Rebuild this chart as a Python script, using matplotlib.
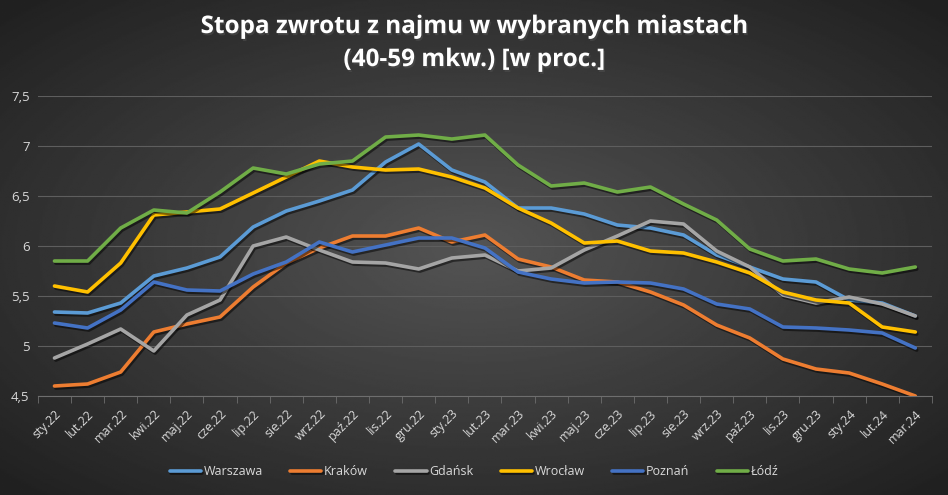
import numpy as np
import matplotlib.pyplot as plt
import matplotlib.patheffects as pe

months = ["sty.22", "lut.22", "mar.22", "kwi.22", "maj.22", "cze.22", "lip.22", "sie.22",
          "wrz.22", "paź.22", "lis.22", "gru.22", "sty.23", "lut.23", "mar.23", "kwi.23",
          "maj.23", "cze.23", "lip.23", "sie.23", "wrz.23", "paź.23", "lis.23", "gru.23",
          "sty.24", "lut.24", "mar.24"]

warszawa = [5.34, 5.33, 5.43, 5.70, 5.78, 5.89, 6.19, 6.35, 6.45, 6.56, 6.84, 7.02, 6.76, 6.64,
            6.38, 6.38, 6.32, 6.21, 6.18, 6.11, 5.91, 5.79, 5.67, 5.64, 5.46, 5.43, 5.30]
krakow = [4.60, 4.62, 4.74, 5.14, 5.22, 5.29, 5.59, 5.83, 5.98, 6.10, 6.10, 6.18, 6.04, 6.11,
          5.87, 5.79, 5.66, 5.64, 5.54, 5.41, 5.21, 5.08, 4.87, 4.77, 4.73, 4.62, 4.50]
gdansk = [4.88, 5.02, 5.17, 4.95, 5.31, 5.46, 6.00, 6.09, 5.96, 5.84, 5.83, 5.77, 5.88, 5.91,
          5.75, 5.78, 5.96, 6.10, 6.25, 6.22, 5.95, 5.79, 5.51, 5.43, 5.49, 5.42, 5.30]
wroclaw = [5.60, 5.54, 5.83, 6.31, 6.34, 6.37, 6.53, 6.69, 6.85, 6.79, 6.76, 6.77, 6.69, 6.58,
           6.38, 6.23, 6.03, 6.05, 5.95, 5.93, 5.84, 5.73, 5.54, 5.46, 5.43, 5.19, 5.14]
poznan = [5.23, 5.18, 5.36, 5.64, 5.56, 5.55, 5.72, 5.84, 6.04, 5.94, 6.01, 6.08, 6.08, 5.98,
          5.74, 5.67, 5.63, 5.64, 5.63, 5.57, 5.42, 5.37, 5.19, 5.18, 5.16, 5.13, 4.98]
lodz = [5.85, 5.85, 6.18, 6.36, 6.33, 6.54, 6.78, 6.72, 6.82, 6.85, 7.09, 7.11, 7.07, 7.11,
        6.81, 6.60, 6.63, 6.54, 6.59, 6.42, 6.26, 5.97, 5.85, 5.87, 5.77, 5.73, 5.79]

series = [("Warszawa", warszawa, "#5B9BD5"),
          ("Kraków", krakow, "#ED7D31"),
          ("Gdańsk", gdansk, "#A5A5A5"),
          ("Wrocław", wroclaw, "#FFC000"),
          ("Poznań", poznan, "#4472C4"),
          ("Łódź", lodz, "#70AD47")]

plt.rcParams['font.family'] = ['Open Sans', 'DejaVu Sans']

fig = plt.figure(figsize=(9.48, 4.95), dpi=100)

# tło: promieniowy gradient jak w Excelu
bg = fig.add_axes([0, 0, 1, 1], zorder=-10)
yy, xx = np.mgrid[0:1:300j, 0:1:600j]
r = np.sqrt(((xx - 0.5) / 0.75) ** 2 + ((yy - 0.5) / 0.75) ** 2)
shade = np.clip(0.33 - 0.22 * r, 0.13, 0.33)
bg.imshow(shade, cmap="gray", vmin=0, vmax=1, aspect="auto", extent=[0, 1, 0, 1])
bg.axis("off")

ax = fig.add_axes([0.040, 0.200, 0.943, 0.606])
ax.set_facecolor("none")

x = np.arange(len(months))
for name, vals, col in series:
    ax.plot(x, vals, color=col, linewidth=2.6, label=name, solid_capstyle="round",
            solid_joinstyle="round",
            path_effects=[pe.SimpleLineShadow(offset=(1, -1.5), alpha=0.5, shadow_color="black"),
                          pe.Normal()])

ax.set_xlim(-0.5, len(months) - 0.5)
ax.set_ylim(4.5, 7.5)
yt = [4.5, 5, 5.5, 6, 6.5, 7, 7.5]
ax.set_yticks(yt)
ax.set_yticklabels([("%g" % v).replace(".", ",") for v in yt])
ax.grid(axis="y", color="#5e5e5e", linewidth=0.8)
ax.set_axisbelow(True)

ax.set_xticks(x)
ax.set_xticklabels(months, rotation=45, ha="right", rotation_mode="anchor")
ax.set_xticks(np.arange(-0.5, len(months)), minor=True)
ax.tick_params(axis="x", which="major", length=0, pad=8, labelsize=9, colors="#d9d9d9")
ax.tick_params(axis="x", which="minor", length=5, color="#6e6e6e")
ax.tick_params(axis="y", length=0, labelsize=9.5, colors="#d9d9d9", pad=6)

for s in ["top", "right", "left"]:
    ax.spines[s].set_visible(False)
ax.spines["bottom"].set_color("#6e6e6e")

fig.text(0.5, 0.912, "Stopa zwrotu z najmu w wybranych miastach\n(40-59 mkw.) [w proc.]",
         ha="center", va="center", color="white", fontsize=17.5, fontweight="bold",
         linespacing=1.5,
         path_effects=[pe.withSimplePatchShadow(offset=(1, -1.5), alpha=0.6)])

fig.legend(loc="center", bbox_to_anchor=(0.5, 0.047), ncol=6, frameon=False,
           fontsize=9, labelcolor="#d9d9d9", handlelength=2.5, handletextpad=0.2,
           columnspacing=2.2)

plt.savefig("out.png", dpi=100)
